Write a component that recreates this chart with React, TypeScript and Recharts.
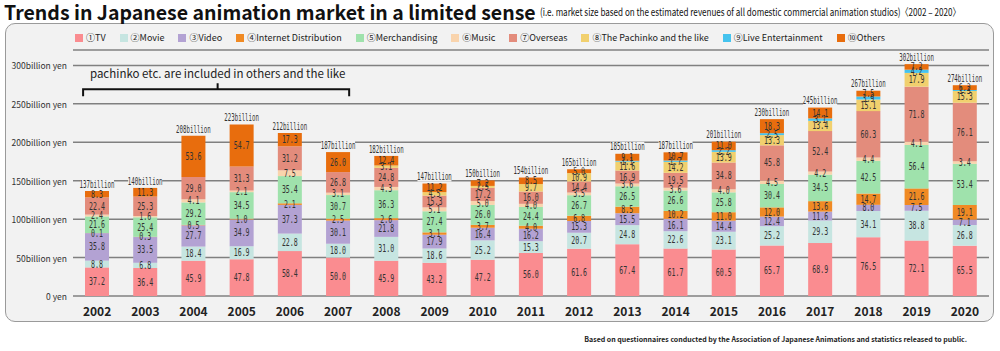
import React from 'react';
import { BarChart, Bar, XAxis, YAxis, CartesianGrid, LabelList, ReferenceLine } from 'recharts';

const years = ['2002','2003','2004','2005','2006','2007','2008','2009','2010','2011','2012','2013','2014','2015','2016','2017','2018','2019','2020'];
const tv = [37.2,36.4,45.9,47.8,58.4,50.0,45.9,43.2,47.2,56.0,61.6,67.4,61.7,60.5,65.7,68.9,76.5,72.1,65.5];
const movie = [8.8,6.8,18.4,16.9,22.8,18.0,31.0,18.6,25.2,15.3,20.7,24.8,22.6,23.1,25.2,29.3,34.1,38.8,26.8];
const video = [35.8,33.5,27.7,34.9,37.3,30.1,21.8,17.9,16.4,16.2,15.3,15.5,16.1,14.4,12.4,11.6,8.0,7.5,7.1];
const internet = [0.1,0.3,0.5,1.0,2.1,2.5,2.6,3.1,3.7,4.0,6.8,8.5,10.2,11.0,12.0,13.6,14.7,21.6,19.1];
const merch = [21.6,25.4,29.2,34.5,35.4,30.7,36.3,27.4,26.0,24.4,26.7,26.5,26.6,25.8,30.4,34.5,42.5,56.4,53.4];
const music = [2.4,1.6,4.1,2.1,7.5,3.1,4.3,5.1,5.0,4.0,3.5,3.6,3.6,4.0,4.5,4.2,4.4,4.1,3.4];
const overseas = [22.4,25.3,29.0,31.3,31.2,26.8,24.8,15.3,17.2,16.0,14.4,16.9,19.5,34.8,45.8,52.4,60.3,71.8,76.1];
const pachinko = [0,0,0,0,0,0,3.1,4.5,2.5,9.7,10.9,11.6,14.2,13.9,13.3,13.4,15.1,17.9,15.3];
const live = [0,0,0,0,0,0,0,0,0,0,0,1.1,1.7,2.2,2.5,3.1,3.9,4.2,1.3];
const others = [8.3,11.3,53.6,54.7,17.3,26.0,12.4,11.2,7.2,8.5,5.0,9.1,10.7,11.0,18.3,14.1,7.5,7.2,6.2];
const totals = [137,140,208,223,212,187,182,147,150,154,165,185,187,201,230,245,267,302,274];
const yTicks = [0,50,100,150,200,250,300];

const series = [
  { key: 'tv', name: '①TV', color: '#fa8c90', values: tv },
  { key: 'movie', name: '②Movie', color: '#c6e5e1', values: movie },
  { key: 'video', name: '③Video', color: '#b3a2d3', values: video },
  { key: 'internet', name: '④Internet Distribution', color: '#f08a24', values: internet },
  { key: 'merch', name: '⑤Merchandising', color: '#9fe2ac', values: merch },
  { key: 'music', name: '⑥Music', color: '#f9d4ad', values: music },
  { key: 'overseas', name: '⑦Overseas', color: '#e38c7c', values: overseas },
  { key: 'pachinko', name: '⑧The Pachinko and the like', color: '#f1d06e', values: pachinko },
  { key: 'live', name: '⑨Live Entertainment', color: '#45c3ee', values: live },
  { key: 'others', name: '⑩Others', color: '#e86d0d', values: others },
];

const data = years.map((y, i) => {
  const row: any = { year: y, total: totals[i] };
  series.forEach((s) => { row[s.key] = s.values[i]; });
  return row;
});

const PANEL_BG = '#f2f2f2';
const MONO = "'DejaVu Sans Mono', 'Liberation Mono', monospace";
const SANS = "'Noto Sans CJK JP', 'Noto Sans', sans-serif";

const SegLabel = (p: any) => {
  const { x, y, width, height, value } = p;
  if (!value) return null;
  const cx = Number(x) + Number(width) / 2;
  const cy = Number(y) + Number(height) / 2;
  return (
    <text transform={`translate(${cx},${cy}) scale(0.66,1)`} textAnchor="middle" dominantBaseline="central"
      fontFamily={MONO} fontSize={10} fill="#333">{Number(value).toFixed(1)}</text>
  );
};

const TotalLabel = (p: any) => {
  const { x, y, width, value } = p;
  const cx = Number(x) + Number(width) / 2;
  const ty = Number(y) - 7;
  return (
    <g>
      <rect x={cx - 17} y={ty - 5} width={34} height={10} fill={PANEL_BG} />
      <text transform={`translate(${cx},${ty}) scale(0.55,1)`} textAnchor="middle" dominantBaseline="central"
        fontFamily={MONO} fontSize={10.5} fill="#333">{`${value}billion`}</text>
    </g>
  );
};

const YTick = (p: any) => {
  const v = p.payload.value;
  return (
    <text x={p.x} y={p.y} textAnchor="end" dominantBaseline="central" fontFamily={SANS} fontSize={8.5} fill="#333">
      {v === 0 ? '0 yen' : `${v}billion yen`}
    </text>
  );
};

const Bracket = (p: any) => {
  const { x1, y1, x2 } = p;
  const l = x1 - 14;
  const r = x2 + 11;
  const mid = (x1 + x2) / 2;
  return (
    <g>
      <path d={`M${l},${y1 + 7} V${y1} H${r} V${y1 + 7} M${mid},${y1} V${y1 - 6}`} stroke="#111" strokeWidth={2} fill="none" />
      <text x={mid} y={y1 - 16} textAnchor="middle" dominantBaseline="central" fontFamily={SANS} fontSize={11.5} fill="#222">
        pachinko etc. are included in others and the like
      </text>
    </g>
  );
};

export default function App() {
  return (
    <div style={{ position: 'absolute', left: 0, top: 0, width: 1000, height: 351, background: '#fff', overflow: 'hidden', fontFamily: SANS }}>
      <div style={{ position: 'absolute', left: 5, top: 23, width: 987, height: 297, border: '1px solid #9a9a9a', borderRadius: 10, background: PANEL_BG }} />
      <div style={{ position: 'absolute', left: 4, top: 1, whiteSpace: 'nowrap', color: '#111', fontSize: 19.5, fontWeight: 700, lineHeight: '22px' }}>
        Trends in Japanese animation market in a limited sense
      </div>
      <div style={{ position: 'absolute', left: 540, top: 5, whiteSpace: 'nowrap', color: '#111', fontSize: 10.5, lineHeight: '14px', transform: 'scaleX(0.77)', transformOrigin: 'left center' }}>
        (i.e. market size based on the estimated revenues of all domestic commercial animation studios)〈2002 – 2020〉
      </div>
      <div style={{ position: 'absolute', left: 75, top: 31, display: 'flex', gap: 14, whiteSpace: 'nowrap', fontSize: 9, color: '#222', alignItems: 'center' }}>
        {series.map((s) => (
          <div key={s.key} style={{ display: 'flex', alignItems: 'center' }}>
            <span style={{ display: 'inline-block', width: 8, height: 8, background: s.color, marginRight: 3 }} />
            <span>{s.name}</span>
          </div>
        ))}
      </div>
      <div style={{ position: 'absolute', right: 33, top: 334, whiteSpace: 'nowrap', fontSize: 7, fontWeight: 700, color: '#222' }}>
        Based on questionnaires conducted by the Association of Japanese Animations and statistics released to public.
      </div>
      <div style={{ position: 'absolute', left: 0, top: 0 }}>
        <BarChart width={1000} height={351} data={data} margin={{ top: 50, right: 11, bottom: 25, left: 0 }} barSize={24}>
          <CartesianGrid vertical={false} stroke="#808080" strokeWidth={1.5} />
          <XAxis dataKey="year" tickLine={false} axisLine={false} tickMargin={5} interval={0} height={30}
            tick={{ fontSize: 12, fontWeight: 700, fill: '#222', fontFamily: SANS }} />
          <YAxis width={73} domain={[0, 320]} ticks={yTicks} tickLine={false} axisLine={false} tickSize={4} tick={<YTick />} />
          {series.map((s, idx) => (
            <Bar key={s.key} dataKey={s.key} name={s.name} stackId="a" fill={s.color} isAnimationActive={false}>
              <LabelList dataKey={s.key} content={<SegLabel />} />
              {idx === series.length - 1 ? <LabelList dataKey="total" content={<TotalLabel />} /> : null}
            </Bar>
          ))}
          <ReferenceLine segment={[{ x: '2002', y: 269 }, { x: '2007', y: 269 }]} shape={<Bracket />} />
        </BarChart>
      </div>
    </div>
  );
}
